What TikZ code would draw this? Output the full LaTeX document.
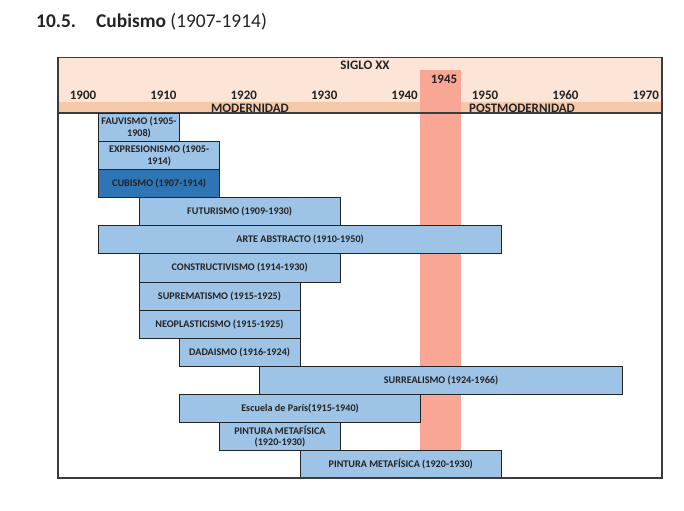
\documentclass[tikz,border=0pt]{standalone}
\usepackage{fontspec}
\setmainfont{Carlito}
\usepackage{xcolor}
\definecolor{ink}{RGB}{35,35,35}
\definecolor{marco}{RGB}{60,60,60}
\definecolor{pecho}{RGB}{252,229,214}
\definecolor{franja}{RGB}{246,200,170}
\definecolor{salmon}{RGB}{250,166,148}
\definecolor{azul}{RGB}{157,195,230}
\definecolor{azulfuerte}{RGB}{46,117,182}
\tikzset{
  etapa/.style={draw=ink,fill=azul,anchor=north west,minimum height=28.1bp,inner sep=0.5pt,
    font=\bfseries\fontsize{10.2}{11.5}\selectfont,align=center,text=ink,line width=0.9pt},
  anio/.style={font=\bfseries\fontsize{13}{14}\selectfont,text=ink,inner sep=0pt},
  epoca/.style={font=\bfseries\fontsize{13}{14}\selectfont,text=ink,inner sep=0pt},
}

\begin{document}
\begin{tikzpicture}[x=1bp,y=-1bp]
\useasboundingbox (0,0) rectangle (684,511);
\node[anchor=base west,inner sep=0pt,font=\fontsize{19.5}{22}\selectfont,text=ink] (titulo)
  at (36,28) {\textbf{10.5.}\hspace{20bp}\textbf{Cubismo} (1907-1914)};
% cabecera
\fill[pecho] (58,57.5) rectangle (662,113);
\fill[franja] (58,102) rectangle (662,113);
\fill[salmon] (420.4,70) rectangle (460.6,478);
\draw[marco,line width=1.1pt] (58,113) -- (662,113);
\node[anio] (siglo) at (365,65) {SIGLO XX};
\node[anio] (a1945) at (444,79) {1945};
\foreach \a [count=\k from 0] in {1900,1910,...,1970}
  \node[anio] (y\a) at ({83+80.4*\k},95) {\a};
\node[epoca] (mod) at (250,108.5) {MODERNIDAD};
\node[epoca] (post) at (522,108.5) {POSTMODERNIDAD};
% movimientos
\node[etapa,minimum width=80.5bp] (fauv) at (98.3,113) {FAUVISMO (1905-\\1908)};
\node[etapa,minimum width=120.8bp] (expr) at (98.3,141.1) {EXPRESIONISMO (1905-\\1914)};
\node[etapa,fill=azulfuerte,minimum width=120.8bp] (cub) at (98.3,169.2) {CUBISMO (1907-1914)};
\node[etapa,minimum width=201.4bp] (fut) at (138.5,197.2) {FUTURISMO (1909-1930)};
\node[etapa,minimum width=402.7bp] (abs) at (98.3,225.3) {ARTE ABSTRACTO (1910-1950)};
\node[etapa,minimum width=201.4bp] (cons) at (138.5,253.4) {CONSTRUCTIVISMO (1914-1930)};
\node[etapa,minimum width=161.1bp] (supr) at (138.5,281.5) {SUPREMATISMO (1915-1925)};
\node[etapa,minimum width=161.1bp] (neo) at (138.5,309.6) {NEOPLASTICISMO (1915-1925)};
\node[etapa,minimum width=120.8bp] (dada) at (178.8,337.6) {DADAISMO (1916-1924)};
\node[etapa,minimum width=362.4bp] (surr) at (259.4,365.7) {SURREALISMO (1924-1966)};
\node[etapa,minimum width=241.6bp] (paris) at (178.8,393.8) {Escuela de París(1915-1940)};
\node[etapa,minimum width=120.8bp] (meta) at (219.1,421.9) {PINTURA METAFÍSICA\\(1920-1930)};
\node[etapa,minimum width=201.4bp] (metab) at (299.6,450) {PINTURA METAFÍSICA (1920-1930)};
\draw[marco,line width=1.1pt] (58,57.5) rectangle (662,478);
\end{tikzpicture}
\end{document}
